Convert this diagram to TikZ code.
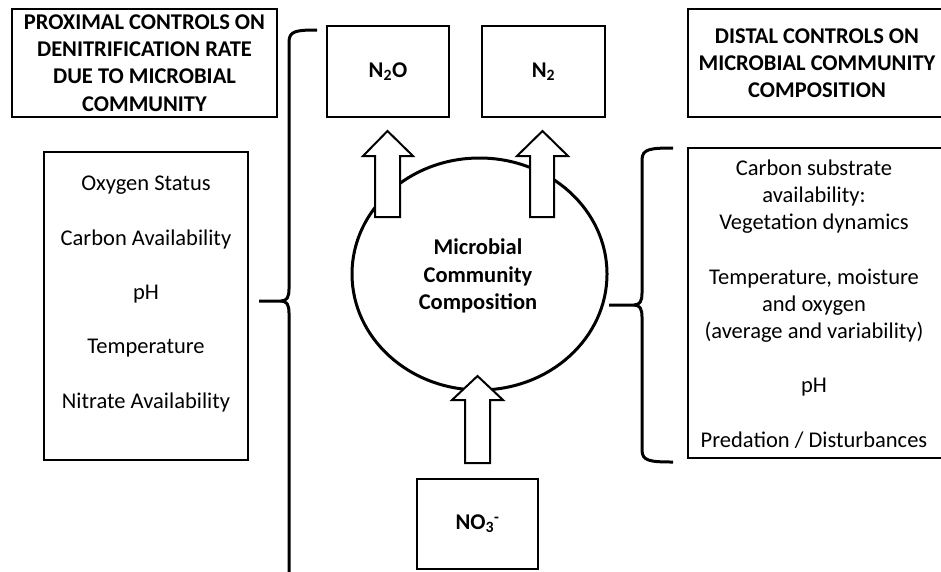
\documentclass[tikz,border=0pt]{standalone}
\usepackage{fontspec}
\setmainfont{Carlito}
\usetikzlibrary{shapes.geometric}
\begin{document}
\begin{tikzpicture}[x=1pt,y=-1pt,
  box/.style={draw, line width=2.5pt, inner sep=0pt},
  txt/.style={align=center, font=\fontsize{22.5}{27.2}\selectfont, inner sep=0pt},
  btxt/.style={align=center, font=\fontsize{22.5}{27.3}\selectfont\bfseries, inner sep=0pt},
  bracepath/.style={line width=3pt, line cap=butt},
  blockarrow/.style={draw, fill=white, line width=2pt, line join=miter}]
\useasboundingbox (0,0) rectangle (941,571);
\clip (0,0) rectangle (941,571);

% title boxes
\node[box, btxt, minimum width=265, minimum height=108] (prox) at (144.5,63)
  {PROXIMAL CONTROLS ON\\DENITRIFICATION RATE\\DUE TO MICROBIAL\\COMMUNITY};
\node[box, btxt, minimum width=258, minimum height=108] (dist) at (817,63)
  {DISTAL CONTROLS ON\\MICROBIAL COMMUNITY\\COMPOSITION};

% left list box
\node[box, line width=2.2pt, minimum width=204, minimum height=308] (lbox) at (146,306) {};
\node[txt] (ltext) at (146,294)
  {Oxygen Status\\[27.1pt]Carbon Availability\\[27.1pt]pH\\[27.1pt]Temperature\\[27.1pt]Nitrate Availability};

% right list box
\node[box, line width=2.2pt, minimum width=255, minimum height=310] (rbox) at (815.5,303) {};
\node[txt] (rtext) at (814,304)
  {Carbon substrate\\availability:\\Vegetation dynamics\\[27.2pt]Temperature, moisture\\and oxygen\\(average and variability)\\[27.2pt]pH\\[27.2pt]Predation / Disturbances};

% product / substrate boxes
\node[box, btxt, minimum width=122, minimum height=91] (n2o) at (388,71.5) {N\textsubscript{2}O};
\node[box, btxt, minimum width=123, minimum height=91] (n2) at (543.5,71.5) {N\textsubscript{2}};
\node[box, btxt, minimum width=121, minimum height=90] (no3) at (477.5,524) {NO\textsubscript{3}\textsuperscript{-}};

% microbial community
\node[ellipse, draw, line width=3pt, minimum width=255, minimum height=232, inner sep=0pt] (mcc) at (479.5,274) {};
\node[btxt] (mcct) at (478,276) {Microbial\\Community\\Composition};

% block arrows
\draw[blockarrow] (375,217) -- (375,156) -- (363,156) -- (387.5,131) -- (413,156) -- (400,156) -- (400,217) -- cycle;
\draw[blockarrow] (530,217) -- (530,156) -- (517,156) -- (542.5,131) -- (568,156) -- (554,156) -- (554,217) -- cycle;
\draw[blockarrow] (465,463) -- (465,400) -- (452,400) -- (477.5,376) -- (503,400) -- (490,400) -- (490,463) -- cycle;

% left brace
\coordinate (lbt) at (317,30);
\coordinate (lbm) at (259,301);
\coordinate (lbb) at (289,580);
\draw[bracepath] (lbt) .. controls (296,30) and (289,31) .. (289,42) -- (289,289)
  .. controls (289,297) and (287,301) .. (281,301) -- (lbm);
\draw[bracepath] (281,301) .. controls (287,301) and (289,305) .. (289,313) -- (lbb);

% right brace
\coordinate (rbt) at (673,148);
\coordinate (rbm) at (609,305);
\coordinate (rbb) at (673,462);
\draw[bracepath] (rbt) .. controls (650,148) and (642,149) .. (642,160) -- (642,293)
  .. controls (642,301) and (640,305) .. (634,305) -- (rbm);
\draw[bracepath] (634,305) .. controls (640,305) and (642,309) .. (642,317) -- (642,450)
  .. controls (642,461) and (650,462) .. (rbb);
\end{tikzpicture}
\end{document}
